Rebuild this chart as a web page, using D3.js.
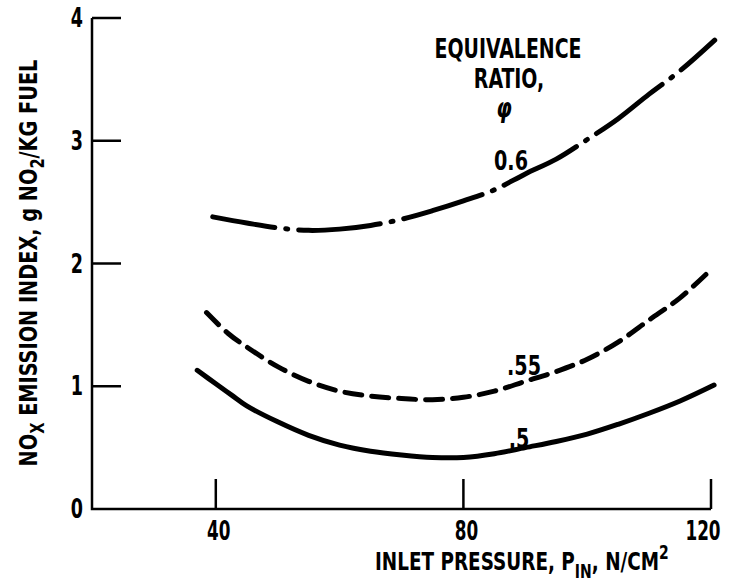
<!DOCTYPE html>
<meta charset="utf-8">
<style>
    body { margin: 0; background: #fff; }
    text {
        font-family: "DejaVu Sans Condensed", "DejaVu Sans", sans-serif;
        fill: #000;
    }
    .axis-line { stroke: #000; stroke-width: 2.5; fill: none; }
    .curve { fill: none; stroke: #000; stroke-width: 5; stroke-linecap: round; stroke-linejoin: round; }
</style>
<body>
    <script src="https://cdn.jsdelivr.net/npm/d3@7"></script>
    <script>
        // inlet pressure, N/cm2
        var xTicks = [40, 80, 120],
            yTicks = [0, 1, 2, 3, 4];

        // equivalence ratio 0.6 (dash-dot)
        var p06 = [39.5, 45, 50, 55, 60, 65, 70, 75, 80, 85, 90, 95, 100, 105, 110, 115, 120.6],
            ei06 = [2.38, 2.33, 2.29, 2.27, 2.28, 2.31, 2.36, 2.43, 2.51, 2.60, 2.73, 2.85, 3.01, 3.18, 3.38, 3.57, 3.82];

        // equivalence ratio 0.55 (dashed)
        var p055 = [38.5, 42, 45, 50, 55, 60, 65, 70, 75, 80, 85, 90, 95, 100, 105, 110, 115, 120.2],
            ei055 = [1.60, 1.43, 1.32, 1.16, 1.04, 0.96, 0.92, 0.90, 0.89, 0.91, 0.96, 1.04, 1.12, 1.22, 1.36, 1.54, 1.72, 1.96];

        // equivalence ratio 0.5 (solid)
        var p05 = [37, 40, 42.5, 45, 50, 55, 60, 65, 70, 75, 80, 85, 90, 95, 100, 105, 110, 115, 120.5],
            ei05 = [1.13, 1.02, 0.93, 0.84, 0.71, 0.60, 0.52, 0.47, 0.44, 0.42, 0.42, 0.45, 0.50, 0.55, 0.61, 0.69, 0.78, 0.88, 1.01];

        var series = [
            {name: '0.6', p: p06, ei: ei06, dash: '82,11,2,11', offset: 19, lx: 511, ly: 170},
            {name: '.55', p: p055, ei: ei055, dash: '17,10', offset: 0, lx: 524, ly: 375},
            {name: '.5', p: p05, ei: ei05, dash: null, offset: 0, lx: 519, ly: 448}
        ];

        var width = 733, height = 585;

        var x = d3.scaleLinear().domain([20, 120]).range([92, 711]),
            y = d3.scaleLinear().domain([0, 4]).range([509, 18]);

        var svg = d3.select('body').append('svg')
            .attr('width', width)
            .attr('height', height);

        // narrow lettering: squeeze the text horizontally
        function label(px, py, str, size, sx, anchor) {
            return svg.append('text')
                .attr('transform', 'translate(' + px + ',' + py + ') scale(' + sx + ',1)')
                .attr('text-anchor', anchor || 'middle')
                .attr('font-size', size)
                .attr('font-weight', 'bold')
                .text(str);
        }

        // axes, ticks drawn inward
        svg.append('path')
            .attr('class', 'axis-line')
            .attr('d', 'M' + x(20) + ',' + y(4) + 'V' + y(0) + 'H' + x(120));

        svg.selectAll('line.ytick')
            .data(yTicks.filter(function(d) { return d > 0; })).enter()
            .append('line')
            .attr('class', 'axis-line ytick')
            .attr('x1', x(20)).attr('x2', x(20) + 29)
            .attr('y1', function(d) { return y(d); })
            .attr('y2', function(d) { return y(d); });

        yTicks.forEach(function(d) {
            label(83, y(d) + 9, d, 26, 0.75, 'end');
        });

        svg.selectAll('line.xtick')
            .data(xTicks).enter()
            .append('line')
            .attr('class', 'axis-line xtick')
            .attr('x1', function(d) { return x(d); })
            .attr('x2', function(d) { return x(d); })
            .attr('y1', y(0)).attr('y2', y(0) - 30);

        xTicks.forEach(function(d) {
            label(d === 120 ? x(d) - 8 : x(d) + 3, 540, d, 26, 0.72);
        });

        // x title, squeezed to the width it has in the figure
        var xt = svg.append('text')
            .attr('font-size', 25)
            .attr('font-weight', 'bold');
        xt.append('tspan').text('INLET PRESSURE,  P');
        xt.append('tspan').attr('dy', 8).attr('font-size', 19).text('IN');
        xt.append('tspan').attr('dy', -8).text(',  N/CM');
        xt.append('tspan').attr('dy', -11).attr('font-size', 19).text('2');
        var xs = 294 / xt.node().getComputedTextLength();
        xt.attr('transform', 'translate(375,570) scale(' + xs + ',1)');

        // y title
        var yt = svg.append('text')
            .attr('text-anchor', 'middle')
            .attr('font-size', 25)
            .attr('font-weight', 'bold');
        yt.append('tspan').text('NO');
        yt.append('tspan').attr('dy', 7).attr('font-size', 19).text('X');
        yt.append('tspan').attr('dy', -7).text(' EMISSION INDEX,  g NO');
        yt.append('tspan').attr('dy', 7).attr('font-size', 19).text('2');
        yt.append('tspan').attr('dy', -7).text('/KG FUEL');
        var ys = 407 / yt.node().getComputedTextLength();
        yt.attr('transform', 'translate(37,263) rotate(-90) scale(' + ys + ',1)');

        // legend heading
        label(508, 58, 'EQUIVALENCE', 27, 0.78);
        label(509, 88, 'RATIO,', 27, 0.78);
        label(504, 117, '\u03c6', 26, 0.85).attr('font-style', 'italic');

        // curves
        var line = d3.line()
            .x(function(d) { return x(d[0]); })
            .y(function(d) { return y(d[1]); })
            .curve(d3.curveCatmullRom.alpha(0.5));

        series.forEach(function(s) {
            var pts = s.p.map(function(v, i) { return [v, s.ei[i]]; });
            var path = svg.append('path')
                .attr('class', 'curve')
                .attr('d', line(pts));
            if (s.dash) {
                path.attr('stroke-dasharray', s.dash)
                    .attr('stroke-dashoffset', s.offset);
            }
            label(s.lx, s.ly, s.name, 26, 0.82);
        });
    </script>
</body>
